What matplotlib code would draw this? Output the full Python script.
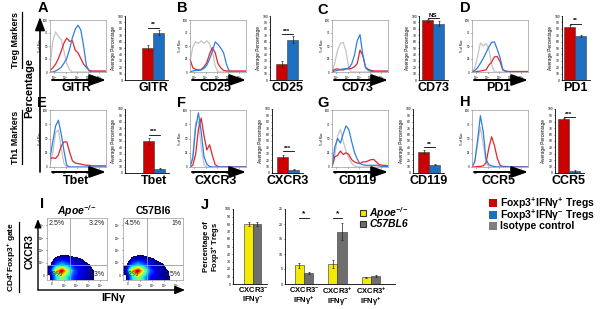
import numpy as np
import matplotlib.pyplot as plt
from matplotlib.patches import FancyArrowPatch, Rectangle
from matplotlib.lines import Line2D

plt.rcParams['font.family'] = ['Liberation Sans', 'DejaVu Sans']
plt.rcParams['mathtext.default'] = 'regular'

W, H = 600, 309

# ---------------- data ----------------
# histogram channel grid (0..100 across the decade axis), values = % of max
hist_x = np.arange(0, 101, 5)

gitr_gray = [10, 60, 77, 68, 62, 40, 16, 4, 0, 0, 0, 0, 0, 0, 0, 0, 0, 0, 0, 0, 0]
gitr_red = [3, 8, 15, 26, 40, 56, 65, 59, 60, 42, 37, 26, 15, 9, 3, 2, 2, 2, 2, 2, 2]
gitr_blue = [0, 0, 2, 5, 9, 17, 26, 44, 66, 82, 90, 81, 50, 12, 2, 0, 0, 0, 0, 0, 0]

cd25_gray = [20, 48, 58, 55, 60, 55, 60, 54, 40, 12, 0, 0, 0, 0, 0, 0, 0, 0, 0, 0, 0]
cd25_red = [25, 8, 5, 4, 5, 10, 18, 35, 47, 37, 16, 8, 3, 2, 2, 2, 2, 2, 2, 2, 2]
cd25_blue = [0, 2, 3, 3, 4, 7, 13, 25, 40, 58, 53, 46, 37, 15, 2, 0, 0, 0, 0, 0, 0]

cd73_gray = [0, 18, 42, 55, 57, 40, 7, 0, 0, 0, 0, 0, 0, 0, 0, 0, 0, 0, 0, 0, 0]
cd73_red = [2, 5, 6, 4, 4, 6, 6, 7, 10, 16, 42, 32, 9, 5, 3, 2, 2, 2, 2, 2, 2]
cd73_blue = [0, 2, 3, 5, 6, 6, 8, 15, 32, 60, 72, 33, 8, 3, 1, 0, 0, 0, 0, 0, 0]

pd1_gray = [0, 8, 30, 56, 50, 55, 45, 15, 0, 0, 0, 0, 0, 0, 0, 0, 0, 0, 0, 0, 0]
pd1_red = [0, 0, 1, 2, 3, 4, 13, 19, 29, 30, 20, 4, 2, 1, 1, 1, 1, 1, 1, 1, 1]
pd1_blue = [0, 3, 8, 17, 26, 37, 48, 57, 58, 44, 28, 5, 1, 0, 0, 0, 0, 0, 0, 0, 0]

tbet_gray = [5, 25, 60, 65, 33, 6, 0, 0, 0, 0, 0, 0, 0, 0, 0, 0, 0, 0, 0, 0, 0]
tbet_red = [15, 16, 15, 21, 37, 44, 44, 26, 11, 7, 6, 5, 4, 3, 3, 2, 2, 2, 2, 2, 2]
tbet_blue = [15, 45, 72, 82, 58, 28, 3, 0, 0, 0, 0, 0, 0, 0, 0, 0, 0, 0, 0, 0, 0]

cxcr3_gray = [0, 20, 78, 80, 35, 4, 0, 0, 0, 0, 0, 0, 0, 0, 0, 0, 0, 0, 0, 0, 0]
cxcr3_red = [0, 3, 22, 66, 86, 55, 30, 39, 20, 4, 1, 0, 0, 0, 0, 0, 0, 0, 0, 0, 0]
cxcr3_blue = [0, 15, 68, 95, 62, 18, 5, 1, 0, 0, 0, 0, 0, 0, 0, 0, 0, 0, 0, 0, 0]

cd119_gray = [0, 20, 55, 66, 45, 28, 16, 7, 2, 0, 0, 0, 0, 0, 0, 0, 0, 0, 0, 0, 0]
cd119_red = [0, 18, 20, 28, 22, 25, 22, 13, 9, 7, 6, 9, 9, 11, 13, 13, 8, 4, 3, 3, 2]
cd119_blue = [0, 35, 50, 42, 58, 72, 66, 45, 26, 14, 6, 4, 3, 3, 3, 3, 3, 2, 1, 1, 1]

ccr5_gray = [0, 8, 40, 70, 40, 8, 0, 0, 0, 0, 0, 0, 0, 0, 0, 0, 0, 0, 0, 0, 0]
ccr5_red = [0, 0, 1, 1, 2, 7, 33, 53, 38, 16, 3, 1, 1, 0, 0, 0, 0, 0, 0, 0, 0]
ccr5_blue = [0, 10, 47, 90, 62, 14, 4, 2, 1, 0, 0, 0, 0, 0, 0, 0, 0, 0, 0, 0, 0]

markers = ['GITR', 'CD25', 'CD73', 'PD1', 'Tbet', 'CXCR3', 'CD119', 'CCR5']
pos_mean = [50, 25, 93, 83, 50, 25, 33, 85]   # Foxp3+IFNg+ Tregs
pos_err = [4, 4, 3, 3, 4, 3, 3, 1]
neg_mean = [74, 63, 88, 69, 7, 5, 13, 3]       # Foxp3+IFNg- Tregs
neg_err = [4, 5, 4, 2, 1, 1, 1, 1]
sig_label = ['**', '***', 'NS', '**', '***', '***', '**', '***']
sig_level = [82, 72, 97, 88, 60, 34, 40, 87]

# panel I quadrants (UL, UR, LR, LL)
apoe_quad = ['2.5%', '3.2%', '5.3%', '89%']
c57_quad = ['4.5%', '1%', '2.5%', '92%']
# coarse event density, rows from low CXCR3 to high, cols low->high IFNg
apoe_density = [
    [0.8, 4, 6, 4, 2.5, 1.8, 1.4, 1.2, 0.7, 0],
    [1.5, 7, 10, 6, 3, 2, 1.6, 1.2, 0.6, 0],
    [0.8, 3, 4, 3, 2, 1.6, 1.3, 0.8, 0, 0],
    [0, 1.3, 1.6, 1.6, 1.3, 1.1, 0.6, 0, 0, 0],
    [0, 0, 0.5, 0.5, 0, 0, 0, 0, 0, 0],
    [0, 0, 0, 0, 0, 0, 0, 0, 0, 0],
    [0, 0, 0, 0, 0, 0, 0, 0, 0, 0],
    [0, 0, 0, 0, 0, 0, 0, 0, 0, 0],
    [0, 0, 0, 0, 0, 0, 0, 0, 0, 0],
    [0, 0, 0, 0, 0, 0, 0, 0, 0, 0],
]
c57_density = [
    [0.8, 4, 6, 4, 2.2, 1.6, 1.3, 1.1, 0.5, 0],
    [1.5, 7.5, 10, 6, 3, 1.8, 1.3, 1.0, 0, 0],
    [0.8, 3, 4, 3, 2, 1.4, 1.1, 0.6, 0, 0],
    [0, 1.3, 1.6, 1.4, 1.2, 0.8, 0.5, 0, 0, 0],
    [0, 0, 0.5, 0.5, 0, 0, 0, 0, 0, 0],
    [0, 0, 0, 0, 0, 0, 0, 0, 0, 0],
    [0, 0, 0, 0, 0, 0, 0, 0, 0, 0],
    [0, 0, 0, 0, 0, 0, 0, 0, 0, 0],
    [0, 0, 0, 0, 0, 0, 0, 0, 0, 0],
    [0, 0, 0, 0, 0, 0, 0, 0, 0, 0],
]

# panel J
j_groups = ['CXCR3$^{-}$\nIFNγ$^{-}$', 'CXCR3$^{-}$\nIFNγ$^{+}$',
            'CXCR3$^{+}$\nIFNγ$^{-}$', 'CXCR3$^{+}$\nIFNγ$^{+}$']
apoe_mean = [80, 6.3, 6.7, 2.3]
apoe_err = [2.5, 0.8, 1.4, 0.2]
c57_mean = [80, 3.6, 17.5, 2.8]
c57_err = [3, 0.3, 2.9, 0.3]

RED, BLUE, GREY = '#cc0000', '#1f6fc0', '#7f7f7f'
LRED, LBLUE, LGREY = '#e3262b', '#2f7fe0', '#c4c4c4'
YEL, DGREY = '#f2ea00', '#6e6e6e'

fig = plt.figure(figsize=(6, 3.09), dpi=100)


def box(x, y, w, h):
    return fig.add_axes([x / W, 1 - (y + h) / H, w / W, h / H])


def ftext(x, y, s, **kw):
    kw.setdefault('ha', 'center')
    kw.setdefault('va', 'center')
    return fig.text(x / W, 1 - y / H, s, **kw)


def farrow(x0, y0, x1, y1, lw=1.4, hl=1.0, hw=0.35):
    fig.add_artist(FancyArrowPatch((x0 / W, 1 - y0 / H), (x1 / W, 1 - y1 / H),
                                   transform=fig.transFigure, mutation_scale=10,
                                   arrowstyle=f'-|>,head_length={hl},head_width={hw}',
                                   lw=lw, color='black', shrinkA=0, shrinkB=0))


def underline_rot(t, gap=1.0, lw=0.9):
    fig.canvas.draw()
    bb = t.get_window_extent()
    x = bb.x1 + gap
    fig.add_artist(Line2D([x / W, x / W], [bb.y0 / H, bb.y1 / H],
                          transform=fig.transFigure, color='black', lw=lw))


# ---------------- histograms ----------------
curves = [(gitr_gray, gitr_red, gitr_blue), (cd25_gray, cd25_red, cd25_blue),
          (cd73_gray, cd73_red, cd73_blue), (pd1_gray, pd1_red, pd1_blue),
          (tbet_gray, tbet_red, tbet_blue), (cxcr3_gray, cxcr3_red, cxcr3_blue),
          (cd119_gray, cd119_red, cd119_blue), (ccr5_gray, ccr5_red, ccr5_blue)]
hist_left = [50, 190, 332, 472]
hist_top = [20, 110]
hist_h = [52, 57]
arrow_y = [80, 172]
label_y = [88, 181]

for i in range(8):
    r, c = divmod(i, 4)
    x0 = hist_left[c]
    ax = box(x0, hist_top[r], 56, hist_h[r])
    g, rd, bl = curves[i]
    ax.plot(hist_x, g, color=LGREY, lw=0.9)
    ax.plot(hist_x, rd, color=LRED, lw=0.9)
    ax.plot(hist_x, bl, color=LBLUE, lw=0.9)
    ax.set_xlim(0, 100)
    ax.set_ylim(0, 100)
    ax.set_xticks([8, 28, 48, 68, 88])
    ax.set_xticklabels(['10$^{0}$', '10$^{1}$', '10$^{2}$', '10$^{3}$', '10$^{4}$'])
    ax.set_yticks([0, 25, 50, 75, 100])
    ax.tick_params(labelsize=2.2, length=1, width=0.4, pad=0.5)
    ax.set_ylabel('% of Max', fontsize=2.2, labelpad=0.5)
    for sp in ax.spines.values():
        sp.set_color('#9a9a9a')
        sp.set_linewidth(0.5)
    farrow(x0 + 2, arrow_y[r], x0 + 56, arrow_y[r])
    ftext(x0 + 26, label_y[r], markers[i], fontsize=9, weight='bold')

# ---------------- marker bar charts ----------------
bar_axis_x = [125, 270, 419, 562, 125, 272, 413, 555]
bar_start = [142, 276, 422, 564, 143, 277, 418, 558]
bar_top = [16, 109]
bw = 11

for i in range(8):
    r = i // 4
    ax_x, st = bar_axis_x[i], bar_start[i]
    right = st + 2 * bw + 4
    ax = box(ax_x, bar_top[r], right - ax_x, 64)
    ax.bar([0, 1], [pos_mean[i], neg_mean[i]], width=1, color=[RED, BLUE],
           edgecolor='#3a3a3a', linewidth=0.4,
           yerr=[pos_err[i], neg_err[i]],
           error_kw=dict(elinewidth=0.5, capsize=1, capthick=0.5, ecolor='#222222'))
    ax.set_xlim(-0.5 - (st - ax_x) / bw, 1.5 + 4 / bw)
    ax.set_ylim(0, 100)
    ax.set_yticks(range(0, 101, 10))
    ax.set_xticks([])
    ax.tick_params(labelsize=2.4, length=1, width=0.4, pad=0.5)
    for s in ('top', 'right'):
        ax.spines[s].set_visible(False)
    for s in ('left', 'bottom'):
        ax.spines[s].set_linewidth(0.6)
    ax.set_ylabel('Average Percentage', fontsize=3.4, labelpad=1)
    ax.plot([0, 1], [sig_level[i]] * 2, color='black', lw=0.6, clip_on=False)
    ax.text(0.5, sig_level[i] + 0.5, sig_label[i], ha='center', va='bottom',
            fontsize=4.5, weight='bold', clip_on=False)
    ftext(st + bw, bar_top[r] + 72, markers[i], fontsize=9, weight='bold')

# ---------------- panel letters & row labels ----------------
for s, x, y in [('A', 43, 8), ('B', 182, 8), ('C', 323, 10), ('D', 465, 8),
                ('E', 42, 103), ('F', 182, 103), ('G', 323, 103), ('H', 465, 102),
                ('I', 42, 204), ('J', 205, 205)]:
    ftext(x, y, s, fontsize=10.5, weight='bold')

t1 = ftext(16, 40, 'Treg Markers', fontsize=6.5, weight='bold', rotation=90)
t2 = ftext(16, 137, 'Th1 Markers', fontsize=6.5, weight='bold', rotation=90)
ftext(29, 88, 'Percentage', fontsize=8, weight='bold', rotation=90)
farrow(40, 172, 40, 17, lw=1.2, hl=0.8, hw=0.3)
t3 = ftext(12, 257, 'CD4$^{+}$Foxp3$^{+}$ gate', fontsize=6, weight='bold', rotation=90)

# ---------------- panel I ----------------
cmap = plt.get_cmap('jet').copy()
cmap.set_under('white')
dens = [apoe_density, c57_density]
quads = [apoe_quad, c57_quad]
dens_left = [47, 123]
gate_x = [0.39, 0.40]
titles = ['Apoe$^{-/-}$', 'C57Bl6']
styles = ['italic', 'normal']
for k in range(2):
    ax = box(dens_left[k], 218, 60, 62)
    ax.imshow(np.array(dens[k]), origin='lower', extent=(0, 1, 0, 1), cmap=cmap,
              vmin=1.0, vmax=10, interpolation='bilinear',
              interpolation_stage='data', aspect='auto')
    ax.axvline(gate_x[k], color='#9a9a9a', lw=0.6)
    ax.axhline(0.24, color='#9a9a9a', lw=0.6)
    q = quads[k]
    kw = dict(fontsize=5, color='#222222')
    ax.text(0.03, 0.97, q[0], ha='left', va='top', **kw)
    ax.text(0.97, 0.97, q[1], ha='right', va='top', **kw)
    ax.text(0.97, 0.03, q[2], ha='right', va='bottom', **kw)
    ax.text(0.03, 0.03, q[3], ha='left', va='bottom', **kw)
    ax.set_xlim(0, 1)
    ax.set_ylim(0, 1)
    ax.set_xticks([0.08, 0.28, 0.48, 0.68, 0.88])
    ax.set_xticklabels(['0', '10$^{1}$', '10$^{2}$', '10$^{3}$', '10$^{4}$'])
    ax.set_yticks([0.08, 0.28, 0.48, 0.68, 0.88])
    ax.set_yticklabels(['0', '10$^{1}$', '10$^{2}$', '10$^{3}$', '10$^{4}$'])
    ax.tick_params(labelsize=2.2, length=1, width=0.4, pad=0.5)
    for sp in ax.spines.values():
        sp.set_color('#9a9a9a')
        sp.set_linewidth(0.5)
    ftext(dens_left[k] + 30, 211, titles[k], fontsize=7.5, weight='bold', style=styles[k])

farrow(38, 290, 38, 219, lw=1.0, hl=0.5, hw=0.2)
farrow(38, 290, 185, 290, lw=1.0, hl=0.6, hw=0.25)
ftext(30, 252, 'CXCR3', fontsize=7.5, weight='bold', rotation=90)
ftext(113, 298, 'IFNγ', fontsize=8, weight='bold')

# ---------------- panel J ----------------
ekw = dict(elinewidth=0.5, capsize=1, capthick=0.5, ecolor='#222222')
ax1 = box(233, 209, 34, 75)
ax1.bar([-0.5, 0.5], [apoe_mean[0], c57_mean[0]], width=1, color=[YEL, DGREY],
        edgecolor='#333333', linewidth=0.4, yerr=[apoe_err[0], c57_err[0]], error_kw=ekw)
ax1.set_xlim(-2.35, 1.65)
ax1.set_ylim(0, 100)
ax1.set_yticks(range(0, 101, 10))
ax1.set_xticks([0])
ax1.set_xticklabels([j_groups[0]], fontsize=5.5, weight='bold', linespacing=1.0)
ax1.set_ylabel('Percentage of\nFoxp3$^{+}$ Tregs', fontsize=5.5, weight='bold',
               labelpad=2, linespacing=1.0)

ax2 = box(285, 209, 110, 75)
gx = np.arange(3)
ax2.bar(gx - 0.14, apoe_mean[1:], width=0.28, color=YEL, edgecolor='#333333',
        linewidth=0.4, yerr=apoe_err[1:], error_kw=ekw)
ax2.bar(gx + 0.14, c57_mean[1:], width=0.28, color=DGREY, edgecolor='#333333',
        linewidth=0.4, yerr=c57_err[1:], error_kw=ekw)
ax2.set_xlim(-0.57, 2.72)
ax2.set_ylim(0, 25)
ax2.set_yticks(range(0, 26, 5))
ax2.set_xticks(gx)
ax2.set_xticklabels(j_groups[1:], fontsize=5.5, weight='bold', linespacing=1.0)
for g in (0, 1):
    ax2.plot([g - 0.14, g + 0.14], [22, 22], color='black', lw=0.6)
    ax2.text(g, 22.2, '*', ha='center', va='bottom', fontsize=6, weight='bold')

for ax in (ax1, ax2):
    ax.tick_params(axis='y', labelsize=2.6, length=1, width=0.4, pad=0.5)
    ax.tick_params(axis='x', length=0, pad=1.0)
    for s in ('top', 'right'):
        ax.spines[s].set_visible(False)
    for s in ('left', 'bottom'):
        ax.spines[s].set_linewidth(0.6)

# J legend
for y, col, lab in [(213, YEL, 'Apoe$^{-/-}$'), (224, DGREY, 'C57BL6')]:
    fig.add_artist(Rectangle((360 / W, 1 - (y + 3) / H), 6 / W, 6 / H,
                             transform=fig.transFigure, facecolor=col,
                             edgecolor='#333333', lw=0.8))
    ftext(369, y, lab, fontsize=7.5, weight='bold', style='italic', ha='left')

# main legend
for y, col, lab in [(203, RED, 'Foxp3$^{+}$IFNγ$^{+}$ Tregs'),
                    (215, BLUE, 'Foxp3$^{+}$IFNγ$^{-}$ Tregs'),
                    (226, GREY, 'Isotype control')]:
    fig.add_artist(Rectangle((489 / W, 1 - (y + 4) / H), 8 / W, 8 / H,
                             transform=fig.transFigure, facecolor=col, lw=0))
    ftext(500, y, lab, fontsize=7.5, weight='bold', ha='left')

for t in (t1, t2, t3):
    underline_rot(t)

fig.savefig('out.png', dpi=100)
